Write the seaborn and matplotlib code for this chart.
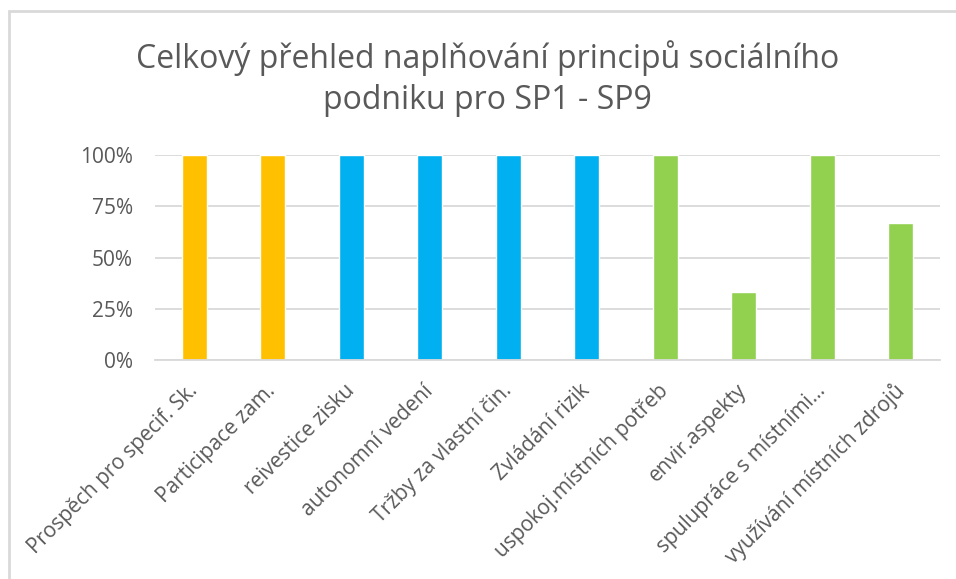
import numpy as np
import pandas as pd
import matplotlib.pyplot as plt
import matplotlib.patches as patches
from matplotlib.ticker import PercentFormatter
import seaborn as sns

# data
categories = ['Prospěch pro specif. Sk.', 'Participace zam.', 'reivestice zisku',
              'autonomní vedení', 'Tržby za vlastní čin.', 'Zvládání rizik',
              'uspokoj.místních potřeb', 'envir.aspekty', 'spulupráce s místními...',
              'využívání místních zdrojů']
values = [1.0, 1.0, 1.0, 1.0, 1.0, 1.0, 1.0, 0.333, 1.0, 0.667]
groups = ['yellow', 'yellow', 'blue', 'blue', 'blue', 'blue',
          'green', 'green', 'green', 'green']
group_colors = {'yellow': '#FFC000', 'blue': '#00B0F0', 'green': '#92D050'}
yticks = [0, 0.25, 0.5, 0.75, 1.0]

df = pd.DataFrame({'Princip': categories, 'Podíl': values, 'Skupina': groups})
palette = [group_colors[g] for g in groups]

sns.set_style('white')
plt.rcParams['font.family'] = ['Open Sans', 'DejaVu Sans']
text_color = '#595959'
grid_color = '#D9D9D9'

fig = plt.figure(figsize=(9.56, 5.79), dpi=100)
ax = fig.add_axes([155/956, 1 - 360/579, (940 - 155)/956, (360 - 155)/579])

sns.barplot(data=df, x='Princip', y='Podíl', hue='Princip', palette=palette,
            legend=False, width=0.32, saturation=1, ax=ax)

ax.set_ylim(0, 1.0)
ax.set_yticks(yticks)
ax.yaxis.set_major_formatter(PercentFormatter(1.0, decimals=0))
ax.grid(axis='y', color=grid_color, linewidth=1.3)
ax.set_axisbelow(True)
for s in ['top', 'right', 'left']:
    ax.spines[s].set_visible(False)
ax.spines['bottom'].set_color(grid_color)
ax.spines['bottom'].set_linewidth(1.3)
ax.set_xlabel('')
ax.set_ylabel('')
ax.tick_params(axis='both', length=0, colors=text_color, labelsize=15)
ax.tick_params(axis='y', pad=16)
ax.tick_params(axis='x', pad=20)
plt.setp(ax.get_xticklabels(), rotation=45, ha='right', va='center',
         rotation_mode='anchor')

fig.text(0.51, 0.864, 'Celkový přehled naplňování principů sociálního\npodniku pro SP1 - SP9',
         ha='center', va='center', fontsize=23, color=text_color, linespacing=1.3)

# light frame around the chart
fig.patches.append(patches.Rectangle((9/956, -0.1), 1.1, 1.1 - 11/579,
                                     transform=fig.transFigure, fill=False,
                                     edgecolor=grid_color, linewidth=2))

fig.savefig('out.png', dpi=100)
